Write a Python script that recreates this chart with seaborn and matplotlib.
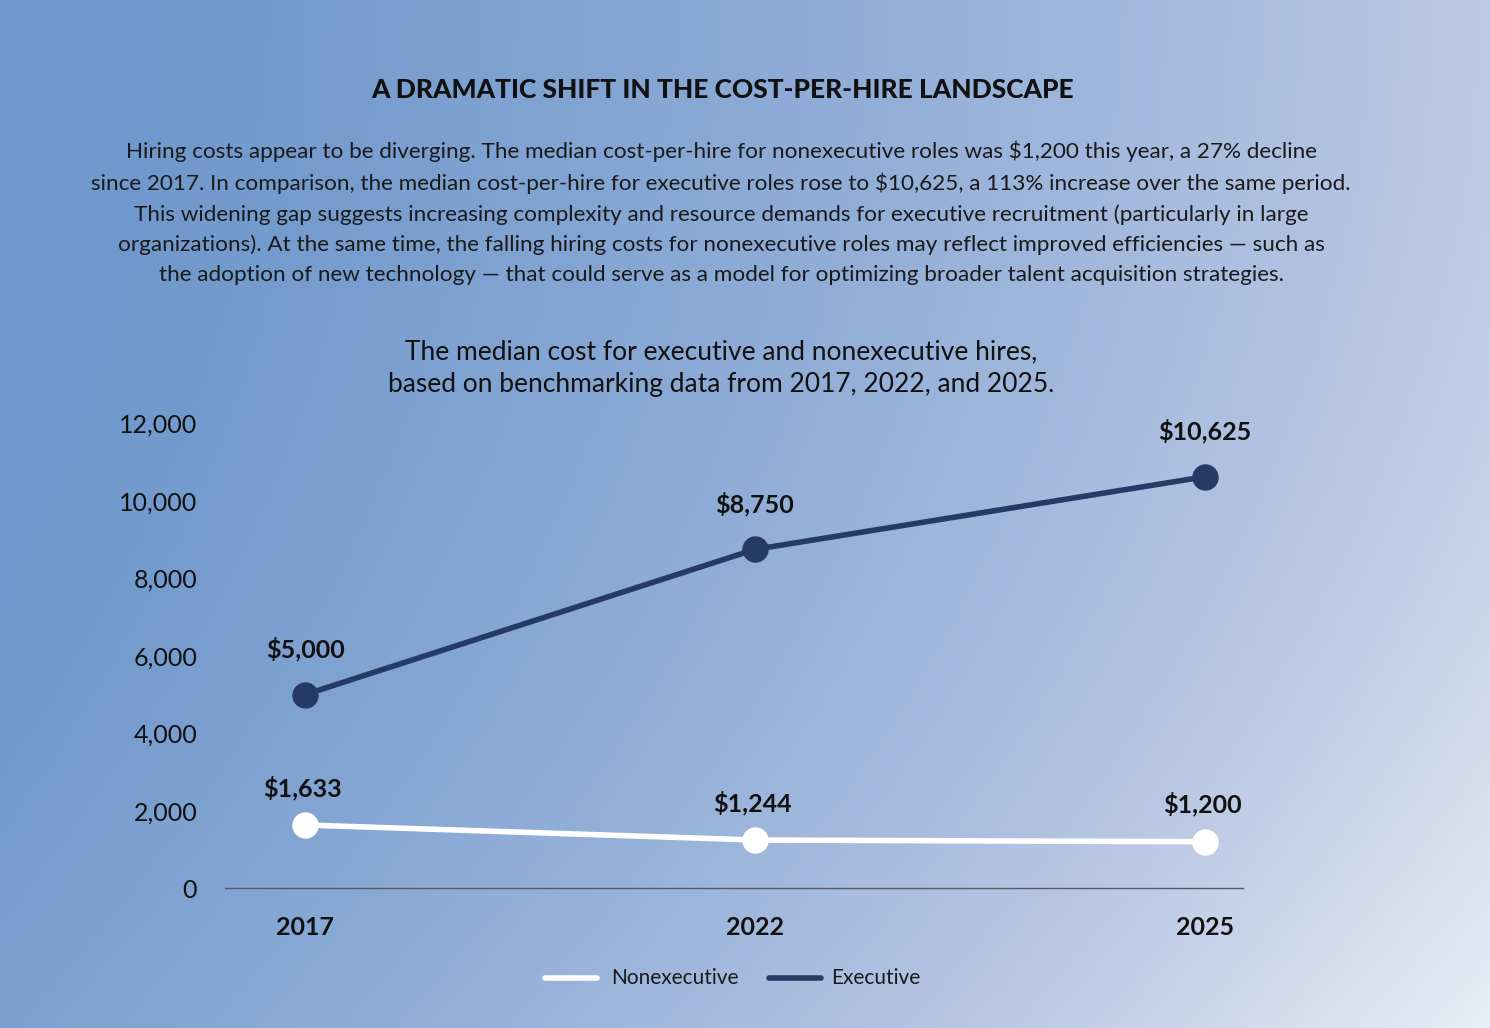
import numpy as np
import matplotlib
matplotlib.use("Agg")
import matplotlib.pyplot as plt
import seaborn as sns
import pandas as pd
from matplotlib.colors import LinearSegmentedColormap

years = ["2017", "2022", "2025"]
executive = [5000, 8750, 10625]
nonexecutive = [1633, 1244, 1200]
y_ticks = [0, 2000, 4000, 6000, 8000, 10000, 12000]

sns.set_theme(style="white")
plt.rcParams['font.family'] = ['Lato', 'DejaVu Sans']

fig = plt.figure(figsize=(14.9, 10.28), dpi=100)

# background gradient
bg = fig.add_axes([0, 0, 1, 1], zorder=0)
xx, yy = np.meshgrid(np.linspace(0, 1, 300), np.linspace(0, 1, 200))
t = np.clip(0.8 * xx + 0.25 * yy ** 2 - 0.05, 0, 1) ** 1.3
cmap = LinearSegmentedColormap.from_list("bg", ["#6f98cc", "#93afd8", "#b9c8e4", "#e9edf6"])
bg.imshow(t, cmap=cmap, aspect="auto", extent=[0, 1, 0, 1], origin="upper")
bg.axis("off")

fig.text(0.485, 0.912, "A DRAMATIC SHIFT IN THE COST-PER-HIRE LANDSCAPE",
         ha="center", va="center", fontsize=19, fontweight="black", color="#111111")
body = ("Hiring costs appear to be diverging. The median cost-per-hire for nonexecutive roles was \\$1,200 this year, a 27% decline\n"
        "since 2017. In comparison, the median cost-per-hire for executive roles rose to \\$10,625, a 113% increase over the same period.\n"
        "This widening gap suggests increasing complexity and resource demands for executive recruitment (particularly in large\n"
        "organizations). At the same time, the falling hiring costs for nonexecutive roles may reflect improved efficiencies \u2014 such as\n"
        "the adoption of new technology \u2014 that could serve as a model for optimizing broader talent acquisition strategies.")
fig.text(0.484, 0.793, body, ha="center", va="center", fontsize=16.2, color="#1a1a1a", linespacing=1.6)
fig.text(0.484, 0.642, "The median cost for executive and nonexecutive hires,\nbased on benchmarking data from 2017, 2022, and 2025.",
         ha="center", va="center", fontsize=19, color="#111111", linespacing=1.35)

ax = fig.add_axes([0.151, 0.136, 0.683, 0.452], zorder=1)
ax.patch.set_alpha(0)
df = pd.DataFrame({"x": [0, 1, 2] * 2,
                   "value": nonexecutive + executive,
                   "series": ["Nonexecutive"] * 3 + ["Executive"] * 3})
sns.lineplot(data=df, x="x", y="value", hue="series",
             palette={"Nonexecutive": "white", "Executive": "#263a66"},
             marker="o", markersize=19, markeredgewidth=0, linewidth=4, ax=ax, legend=False)

for i, v in enumerate(executive):
    ax.annotate(f"${v:,}", (i, v), xytext=(0, 24), textcoords="offset points",
                ha="center", va="bottom", fontsize=18, fontweight="bold", color="#111111")
for i, v in enumerate(nonexecutive):
    ax.annotate(f"${v:,}", (i, v), xytext=(-2, 18), textcoords="offset points",
                ha="center", va="bottom", fontsize=18, fontweight="bold", color="#111111")

ax.set_xlim(-0.178, 2.084)
ax.set_ylim(0, 12000)
ax.set_xticks([0, 1, 2])
ax.set_xticklabels(years, fontsize=18, fontweight="bold", color="#111111")
ax.set_yticks(y_ticks)
ax.set_yticklabels([f"{v:,}" for v in y_ticks], fontsize=18, color="#111111")
ax.tick_params(axis="x", length=0, pad=20)
ax.tick_params(axis="y", length=0, pad=20)
ax.set_xlabel("")
ax.set_ylabel("")
for s in ["top", "right", "left"]:
    ax.spines[s].set_visible(False)
ax.spines["bottom"].set_color("#555a66")
ax.spines["bottom"].set_linewidth(1)

# legend
lx = 0.366
fig.lines.append(plt.Line2D([lx, lx + 0.035], [0.049, 0.049], color="white", lw=4, transform=fig.transFigure, zorder=2))
fig.text(lx + 0.044, 0.049, "Nonexecutive", va="center", fontsize=15, color="#1a1a1a")
lx2 = 0.516
fig.lines.append(plt.Line2D([lx2, lx2 + 0.035], [0.049, 0.049], color="#263a66", lw=4, transform=fig.transFigure, zorder=2))
fig.text(lx2 + 0.042, 0.049, "Executive", va="center", fontsize=15, color="#1a1a1a")

fig.savefig("out.png", dpi=100)
